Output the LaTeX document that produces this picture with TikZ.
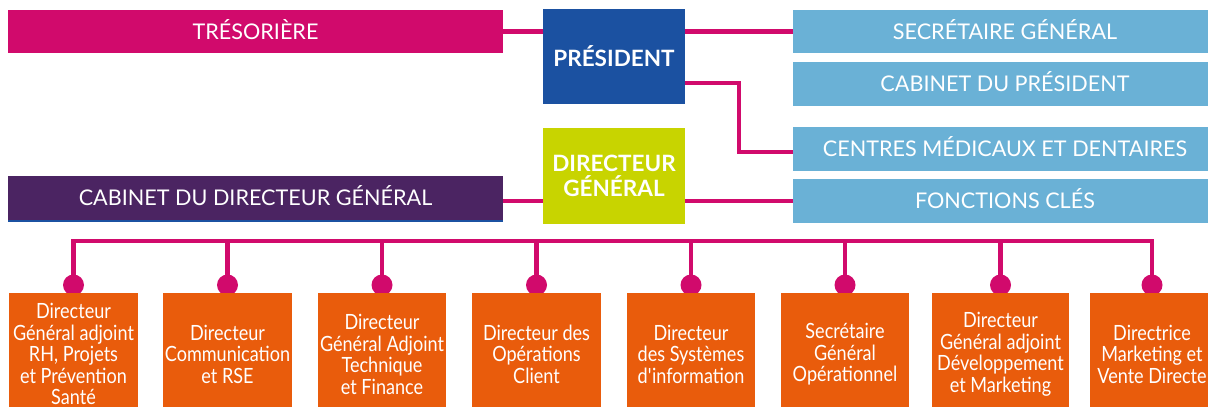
\documentclass[tikz,border=0pt]{standalone}
\usepackage{fontspec}
\setmainfont{Lato}
\newfontfamily\condfont[FakeStretch=0.86]{Lato}
\usetikzlibrary{backgrounds}
\definecolor{pinkc}{HTML}{D10A6C}
\definecolor{bluec}{HTML}{1B51A1}
\definecolor{limec}{HTML}{C8D400}
\definecolor{purplec}{HTML}{4B2462}
\definecolor{skyc}{HTML}{6AB1D6}
\definecolor{orangec}{HTML}{E95C0C}
\begin{document}
\begin{tikzpicture}[x=1pt,y=-1pt,
  topbox/.style={rectangle, inner sep=0pt, text=white, font=\fontsize{21.6}{24}\selectfont, text height=15.5pt, text depth=0pt},
  headbox/.style={rectangle, inner sep=0pt, text=white, align=center, font=\bfseries\fontsize{22.5}{24.5}\selectfont, minimum width=142pt, minimum height=95pt},
  rightbox/.style={topbox, fill=skyc, minimum width=424pt, minimum height=44pt},
  leftbox/.style={topbox, minimum width=495pt, minimum height=44pt},
  conn/.style={draw=pinkc, line width=4.5pt},
  dotc/.style={circle, fill=pinkc, inner sep=0pt, minimum size=21pt},
  lowbox/.style={rectangle, fill=orangec, inner sep=0pt, text=white, align=center, anchor=north, minimum height=122pt, font=\condfont\fontsize{21}{21.5}\selectfont}
]
\useasboundingbox (0,0) rectangle (1208,407);
\clip (0,0) rectangle (1208,407);

% left boxes
\node[leftbox, fill=pinkc, minimum height=43pt] (tres) at (255.5,31.5) {TRÉSORIÈRE};
\node[leftbox, fill=purplec] (cabdg) at (255.5,198) {CABINET DU DIRECTEUR GÉNÉRAL};
\fill[bluec] (cabdg.south west) rectangle ([yshift=-2pt]cabdg.south east);

% central boxes
\node[headbox, fill=bluec] (pres) at (614,56.5) {PRÉSIDENT};
\node[headbox, fill=limec, minimum height=96pt] (dg) at (614,176) {DIRECTEUR\\GÉNÉRAL};

% right boxes
\node[rightbox, minimum height=43pt] (sg) at (1005,31.5) {SECRÉTAIRE GÉNÉRAL};
\node[rightbox] (cabp) at (1005,84) {CABINET DU PRÉSIDENT};
\node[rightbox] (cmd) at (1005,149) {CENTRES MÉDICAUX ET DENTAIRES};
\node[rightbox] (fc) at (1005,201) {FONCTIONS CLÉS};

% lower boxes
\node[lowbox, minimum width=129pt] (b1) at (73.5,293) {Directeur\\Général adjoint\\RH, Projets\\et Prévention\\Santé};
\node[lowbox, minimum width=129pt] (b2) at (227.5,293) {Directeur\\Communication\\et RSE};
\node[lowbox, minimum width=128pt] (b3) at (382,293) {Directeur\\Général Adjoint\\Technique\\et Finance};
\node[lowbox, minimum width=129pt] (b4) at (536.5,293) {Directeur des\\Opérations\\Client};
\node[lowbox, minimum width=128pt] (b5) at (691,293) {Directeur\\des Systèmes\\d\textquotesingle information};
\node[lowbox, minimum width=128pt] (b6) at (845,293) {Secrétaire\\Général\\Opérationnel};
\node[lowbox, minimum width=137pt] (b7) at (1000.5,293) {Directeur\\Général adjoint\\Développement\\et Marketing};
\node[lowbox, minimum width=124pt] (b8) at (1152,293) {Directrice\\Marketing et\\Vente Directe};

\coordinate (bus) at (614,241);

\begin{pgfonlayer}{background}
  % top connectors
  \draw[conn] (tres.east) -- (pres.west |- tres.east);
  \draw[conn] (pres.east |- sg.west) -- (sg.west);
  \draw[conn] ([yshift=21pt]pres.south east) -- ++(54,0) |- ([yshift=-3pt]cmd.west);
  \draw[conn] (cabdg.east |- fc.west) -- (dg.west |- fc.west);
  \draw[conn] (dg.east |- fc.west) -- (fc.west);
  % dots
  \foreach \i in {1,...,8} {
    \node[dotc] (p\i) at ([yshift=8pt]b\i.north) {};
  }
  % bus
  \draw[conn] (p1.center) |- (b8.north |- bus) -- (p8.center);
  \foreach \i in {2,...,7} {
    \draw[conn] (b\i.north |- bus) -- (p\i.center);
  }
\end{pgfonlayer}
\end{tikzpicture}
\end{document}
